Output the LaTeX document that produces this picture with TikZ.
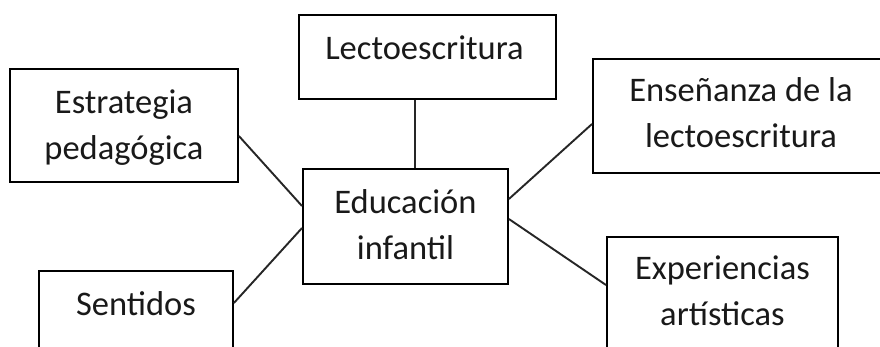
\documentclass[tikz,border=0pt]{standalone}
\usepackage{fontspec}
\setmainfont{Carlito}
\usetikzlibrary{calc}
\begin{document}
\begin{tikzpicture}[x=1pt,y=-1pt,
  box/.style={draw=black, line width=1.9pt, rectangle, inner sep=0pt, anchor=north west},
  txt/.style={inner sep=0pt, align=center, anchor=base, font=\fontsize{34.5}{46}\selectfont, text=black!90},
  link/.style={draw=black!85, line width=1.9pt}]
\clip (0,0) rectangle (880,346);
\fill[white] (0,0) rectangle (880,346);
% boxes
\node[box, minimum width=228pt, minimum height=113pt] (est) at (9,68) {};
\node[box, minimum width=257pt, minimum height=84pt] (lec) at (298,14) {};
\node[box, minimum width=205pt, minimum height=115pt] (edu) at (302,168) {};
\node[box, minimum width=194pt, minimum height=95pt] (sen) at (38,270) {};
\node[box, minimum width=296pt, minimum height=114pt] (ens) at (592,58) {};
\node[box, minimum width=231pt, minimum height=124pt] (exp) at (606,236) {};
% texts (anchor=base is the baseline of the last line)
\node[txt] (testr) at ($(est.north)+(0,91)$) {Estrategia\\pedagógica};
\node[txt] (tlec) at ($(lec.north)+(-3,45)$) {Lectoescritura};
\node[txt] (tedu) at ($(edu.north)+(0,91)$) {Educación\\infantil};
\node[txt] (tsen) at ($(sen.north)+(0,45)$) {Sentidos};
\node[txt] (tens) at ($(ens.north)+(0,89)$) {Enseñanza de la\\lectoescritura};
\node[txt] (texp) at ($(exp.north)+(0,89)$) {Experiencias\\artísticas};
% connectors
\draw[link] ($(lec.south west)+(117,0)$) -- ($(edu.north west)+(113,0)$);
\draw[link] ($(est.north east)+(0,68)$) -- ($(edu.north west)+(0,38)$);
\draw[link] ($(sen.north east)+(0,33)$) -- ($(edu.north west)+(0,60)$);
\draw[link] ($(edu.north east)+(0,31)$) -- ($(ens.north west)+(0,66)$);
\draw[link] ($(edu.north east)+(0,51)$) -- ($(exp.north west)+(0,49)$);
\end{tikzpicture}
\end{document}
